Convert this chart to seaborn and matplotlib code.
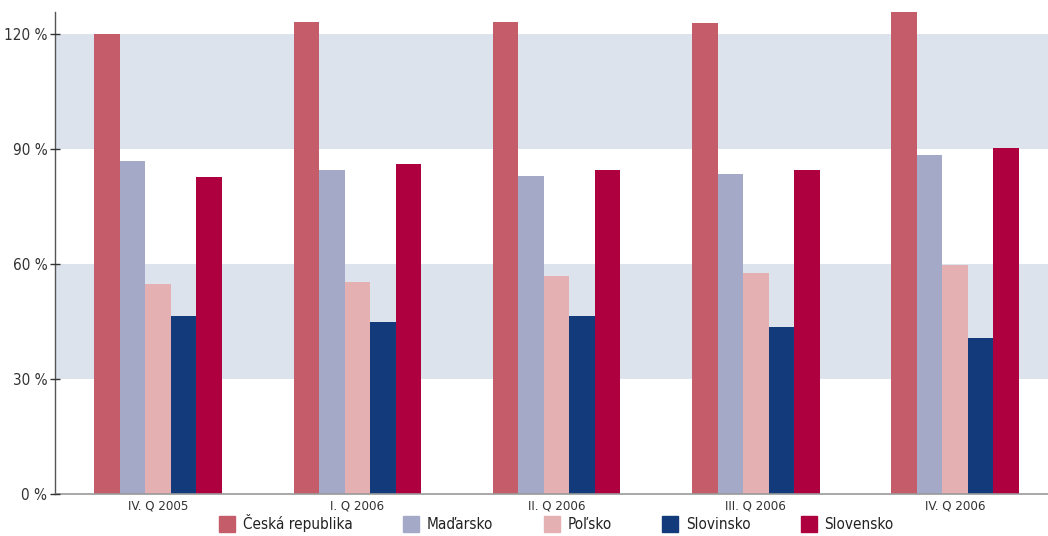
import matplotlib
matplotlib.use("Agg")
import matplotlib.pyplot as plt
import matplotlib.patches as mpatches
import seaborn as sns
import pandas as pd

quarters = ["IV. Q 2005", "I. Q 2006", "II. Q 2006", "III. Q 2006", "IV. Q 2006"]
countries = ["Česká republika", "Maďarsko", "Poľsko", "Slovinsko", "Slovensko"]
ceska = [120.0, 123.1, 123.1, 122.9, 125.9]
madarsko = [86.9, 84.5, 83.0, 83.5, 88.4]
polsko = [54.8, 55.3, 56.9, 57.7, 59.7]
slovinsko = [46.4, 44.9, 46.4, 43.6, 40.7]
slovensko = [82.7, 86.1, 84.5, 84.5, 90.3]
colors = ["#C55C6A", "#A4A9C8", "#E4B0B1", "#133A7A", "#AE003E"]
y_ticks = [0, 30, 60, 90, 120]

series = [ceska, madarsko, polsko, slovinsko, slovensko]
rows = []
for name, vals in zip(countries, series):
    for q, v in zip(quarters, vals):
        rows.append({"quarter": q, "country": name, "value": v})
df = pd.DataFrame(rows)

sns.set_theme(style="white")
plt.rcParams["font.family"] = ["DejaVu Sans"]
plt.rcParams["font.stretch"] = "condensed"

fig = plt.figure(figsize=(10.48, 5.36), dpi=100)
ax = fig.add_axes([0.0525, 0.0784, 0.9475, 0.8995])

# shaded horizontal bands
for lo, hi in [(30, 60), (90, 120)]:
    ax.axhspan(lo, hi, color="#DDE3ED", lw=0, zorder=0)

sns.barplot(data=df, x="quarter", y="value", hue="country", order=quarters,
            hue_order=countries, palette=colors, width=0.64, saturation=1,
            linewidth=0, ax=ax, zorder=2, legend=False)

ax.set_xlim(-0.518, 4.466)
ax.set_ylim(0, 125.7)
ax.set_yticks(y_ticks)
ax.set_yticklabels([f"{t} %" for t in y_ticks], fontsize=11, color="#333333")
ax.tick_params(axis="y", direction="inout", length=7, width=1, color="#333333", pad=2, left=True)
ax.tick_params(axis="x", length=0, labelsize=9.5, labelcolor="#333333", pad=4)
ax.set_xlabel("")
ax.set_ylabel("")
for s in ["top", "right"]:
    ax.spines[s].set_visible(False)
ax.spines["left"].set_color("#555555")
ax.spines["bottom"].set_color("#999999")
ax.spines["left"].set_linewidth(1)
ax.spines["bottom"].set_linewidth(1.2)
ax.set_axisbelow(False)

handles = [mpatches.Patch(color=c, label=n) for c, n in zip(colors, countries)]
fig.legend(handles=handles, loc="lower center", ncol=5, frameon=False,
           bbox_to_anchor=(0.531, -0.018), fontsize=11, handlelength=1.05,
           handleheight=1.2, handletextpad=0.5, columnspacing=3.3,
           labelcolor="#222222")

fig.savefig("out.png", dpi=100)
